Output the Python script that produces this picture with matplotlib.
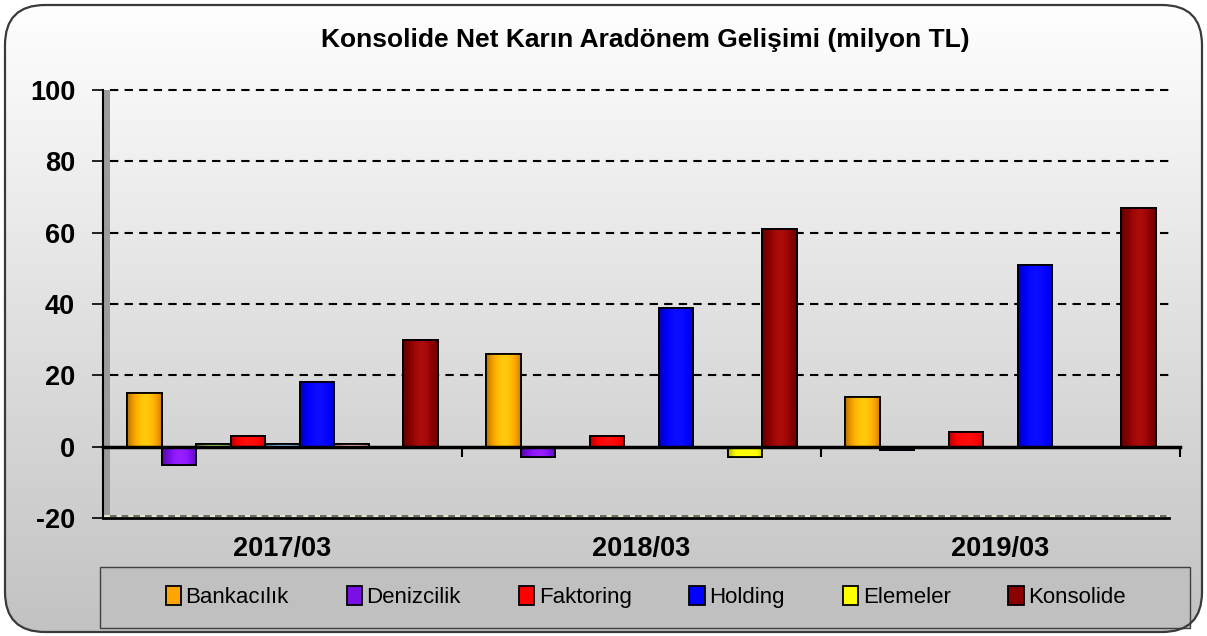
import numpy as np
import matplotlib
matplotlib.use("Agg")
import matplotlib.pyplot as plt
from matplotlib.patches import FancyBboxPatch, Rectangle
from matplotlib.colors import to_rgb

plt.rcParams['font.family'] = ['Liberation Sans', 'DejaVu Sans']

# ---- data ----
periods = ["2017/03", "2018/03", "2019/03"]
series_names = ["Bankacılık", "Denizcilik", "_s3", "Faktoring", "_s5", "Holding", "_s7", "Elemeler", "Konsolide"]
bankacilik = [15, 26, 14]
denizcilik = [-5, -3, -1]
seri3 = [0.8, 0, 0]
faktoring = [3, 3, 4]
seri5 = [0.7, 0, 0]
holding = [18, 39, 51]
seri7 = [0.8, 0, 0]
elemeler = [0, -3, 0]
konsolide = [30, 61, 67]
values = [bankacilik, denizcilik, seri3, faktoring, seri5, holding, seri7, elemeler, konsolide]
colors = ["#ffa500", "#7a10e6", "#8fbf5a", "#ff0000", "#74aee0", "#0000ff", "#ec9a9a", "#ffff00", "#8b0000"]
yticks = [-20, 0, 20, 40, 60, 80, 100]

W, H = 1207, 636
fig = plt.figure(figsize=(W / 100, H / 100), dpi=100)

# background gradient with rounded border
bg = fig.add_axes([0, 0, 1, 1], zorder=-10)
bg.axis('off')
border = FancyBboxPatch((5, 4), W - 10, H - 9, boxstyle="round,pad=0,rounding_size=40",
                        facecolor='none', edgecolor='#3a3a3a', lw=1.6, zorder=2)
bg.add_patch(border)
grad = np.linspace(0, 1, 256)[:, None]
top = np.array([1.0, 1.0, 1.0]); bot = np.array([0.76, 0.76, 0.76])
img = top[None, None, :] * (1 - grad[..., None]) + bot[None, None, :] * grad[..., None]
im = bg.imshow(img, extent=[0, W, 0, H], origin='upper', aspect='auto', zorder=0)
im.set_clip_path(border)
bg.set_xlim(0, W); bg.set_ylim(0, H)

# legend box
bg.add_patch(Rectangle((100, 8), 1090, 61, facecolor='#c0c0c0', edgecolor='#404040', lw=1.0, zorder=1))

ax = fig.add_axes([103 / W, 1 - 518 / H, 1077 / W, 428 / H])
ax.set_facecolor('none')

n = len(values)
bw = 0.096
x0 = np.arange(len(periods)) + 0.5

def shade(color, n=64):
    c = np.array(to_rgb(color))
    t = np.linspace(0, 1, n)
    f = 0.55 + 0.6 * np.sin(np.pi * np.clip(t * 0.85 + 0.05, 0, 1)) ** 0.8
    f = np.clip(f, 0, 1.15)
    rgb = np.clip(c[None, :] * f[:, None] + np.clip(f - 1, 0, None)[:, None] * 0.3, 0, 1)
    return rgb[None, :, :]

handles = []
for i, (name, vals, col) in enumerate(zip(series_names, values, colors)):
    xs = x0 + (i - (n - 1) / 2) * bw
    bars = ax.bar(xs, vals, width=bw, color=col, edgecolor='black', linewidth=1.3,
                  label=name, zorder=3)
    for b in bars:
        h = b.get_height()
        if h == 0:
            continue
        x, y = b.get_x(), b.get_y()
        gim = ax.imshow(shade(col), extent=[x, x + b.get_width(), y, y + h],
                        aspect='auto', zorder=3.5, interpolation='bilinear')
        gim.set_clip_path(b)
        ax.bar(b.get_x() + b.get_width() / 2, h, width=b.get_width(), bottom=y,
               color='none', edgecolor='black', linewidth=1.3, zorder=4)
    if not name.startswith('_'):
        handles.append(bars)
ax.set_xlim(0, 3)
ax.set_ylim(-20, 100)

# gridlines, walls, floor
ax.hlines([20, 40, 60, 80, 100], 0.02, 2.97, colors='black', linestyles=(0, (4, 3)), lw=1.5,
          zorder=2, clip_on=False)
ax.add_patch(Rectangle((0, -20), 0.019, 120, facecolor='#9c9c9c', edgecolor='none', zorder=1))
ax.add_patch(Rectangle((0, -20), 2.97, 0.8, facecolor='#e6e6cc', edgecolor='none', zorder=1))
ax.hlines([-19.4], 0.02, 2.97, colors='#555555', linestyles=(0, (4, 3)), lw=1.2, zorder=2)
ax.axhline(-20, color='black', lw=2, xmax=0.99, zorder=2, clip_on=False)

for s in ['top', 'right']:
    ax.spines[s].set_visible(False)
ax.spines['left'].set_linewidth(1.5)
ax.spines['bottom'].set_position(('data', 0))
ax.spines['bottom'].set_linewidth(2.5)
ax.spines['bottom'].set_zorder(5)
ax.set_xticks([0, 1, 2, 3])
ax.set_xticklabels([])
ax.tick_params(axis='x', direction='out', length=7, width=1.5)
ax.set_yticks(yticks)
ax.set_yticklabels([str(v) for v in yticks], fontsize=19.5, fontweight='bold')
ax.tick_params(axis='y', direction='out', length=8, width=1.2, pad=12)

for xc, p in zip(x0, periods):
    ax.text(xc, -0.072, p, transform=ax.get_xaxis_transform(), ha='center', va='center',
            fontsize=19.5, fontweight='bold')

fig.text(0.535, 0.937, "Konsolide Net Karın Aradönem Gelişimi (milyon TL)", ha='center', va='center',
         fontsize=19, fontweight='bold')

leg = fig.legend(handles, [s for s in series_names if not s.startswith('_')], loc='center',
                 bbox_to_anchor=(0.535, 0.061), ncol=6, frameon=False, fontsize=16,
                 handlelength=0.7, handleheight=0.9, handletextpad=0.2, columnspacing=2.6)

fig.savefig("out.png", dpi=100)
